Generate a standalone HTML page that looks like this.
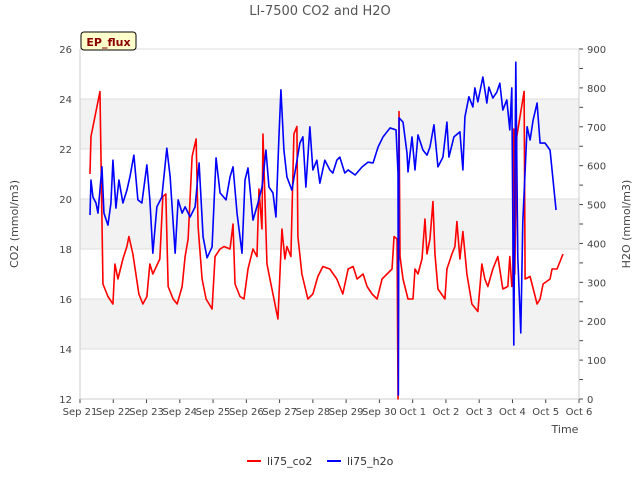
<!DOCTYPE html>
<html><head><meta charset="utf-8"><style>
body{margin:0;background:#fff;font-family:"Liberation Sans","DejaVu Sans",sans-serif}
svg text{font-family:"DejaVu Sans","Liberation Sans",sans-serif}
</style></head><body>
<svg id="c" width="640" height="480" viewBox="0 0 640 480">
<text x="320" y="15" text-anchor="middle" font-size="13" fill="#555">LI-7500 CO2 and H2O</text>
<g id="bands"></g><g id="grid"></g><g id="axes"></g><g id="series"></g>
<g>
<rect x="81" y="32" width="55" height="18" rx="3" fill="#ffffcc" stroke="#000" stroke-width="1"/>
<text x="108.5" y="46" text-anchor="middle" font-size="11" font-weight="bold" fill="#8b0000">EP_flux</text></g>
<text x="565" y="433" text-anchor="middle" font-size="11" fill="#444">Time</text>
<text transform="translate(18,224) rotate(-90)" text-anchor="middle" font-size="11" fill="#444">CO2 (mmol/m3)</text>
<text transform="translate(630,224) rotate(-90)" text-anchor="middle" font-size="11" fill="#444">H2O (mmol/m3)</text>
<g><line x1="247" y1="461" x2="261" y2="461" stroke="#f00" stroke-width="2"/><text x="267" y="465" font-size="11" fill="#333">li75_co2</text></g>
<g><line x1="327" y1="461" x2="341" y2="461" stroke="#00f" stroke-width="2"/><text x="347" y="465" font-size="11" fill="#333">li75_h2o</text></g>
</svg>
<script>
const xLabels=["Sep 21","Sep 22","Sep 23","Sep 24","Sep 25","Sep 26","Sep 27","Sep 28","Sep 29","Sep 30","Oct 1","Oct 2","Oct 3","Oct 4","Oct 5","Oct 6"];
const leftTicks=[12,14,16,18,20,22,24,26];
const rightTicks=[0,100,200,300,400,500,600,700,800,900];
const co2Days=[0.30,0.33,0.60,0.69,0.84,0.99,1.05,1.14,1.29,1.41,1.47,1.59,1.68,1.77,1.89,2.01,2.10,2.19,2.40,2.49,2.58,2.65,2.80,2.92,3.07,3.16,3.25,3.37,3.49,3.55,3.67,3.79,3.97,4.06,4.21,4.33,4.51,4.60,4.66,4.81,4.93,5.05,5.20,5.32,5.38,5.47,5.50,5.62,5.80,5.95,6.07,6.16,6.22,6.34,6.43,6.52,6.55,6.67,6.85,7.00,7.15,7.30,7.51,7.72,7.90,8.06,8.21,8.33,8.51,8.63,8.78,8.93,9.08,9.23,9.38,9.44,9.53,9.56,9.59,9.62,9.71,9.86,10.01,10.07,10.16,10.28,10.37,10.43,10.52,10.61,10.67,10.76,10.97,11.03,11.18,11.27,11.33,11.42,11.51,11.63,11.78,11.96,12.08,12.17,12.26,12.41,12.56,12.71,12.86,12.92,12.98,13.01,13.04,13.07,13.13,13.35,13.38,13.53,13.74,13.83,13.92,14.13,14.19,14.34,14.52];
const co2Vals=[21.0,22.5,24.3,16.6,16.1,15.8,17.4,16.8,17.6,18.1,18.5,17.8,17.0,16.2,15.8,16.1,17.4,17.0,17.6,20.1,20.2,16.5,16.0,15.8,16.5,17.7,18.4,21.7,22.4,18.9,16.8,16.0,15.6,17.7,18.0,18.1,18.0,19.0,16.6,16.1,16.0,17.2,18.0,17.7,20.4,18.8,22.6,17.4,16.2,15.2,18.8,17.6,18.1,17.7,22.6,22.9,18.5,17.0,16.0,16.2,16.9,17.3,17.2,16.8,16.2,17.2,17.3,16.8,17.0,16.5,16.2,16.0,16.8,17.0,17.2,18.5,18.4,12.0,23.5,17.7,16.8,16.0,16.0,17.2,17.0,17.6,19.2,17.8,18.4,19.9,17.8,16.4,16.0,17.2,17.8,18.1,19.1,17.6,18.7,17.0,15.8,15.5,17.4,16.8,16.5,17.2,17.7,16.4,16.5,17.7,16.5,16.6,22.8,17.0,22.5,24.3,16.8,16.9,15.8,16.0,16.6,16.8,17.2,17.2,17.8];
const h2oDays=[0.30,0.33,0.39,0.48,0.54,0.66,0.72,0.84,0.93,0.99,1.08,1.17,1.29,1.41,1.50,1.62,1.74,1.86,2.01,2.10,2.19,2.31,2.46,2.61,2.71,2.86,2.95,3.07,3.16,3.31,3.46,3.58,3.70,3.82,3.97,4.09,4.21,4.39,4.51,4.60,4.72,4.87,4.96,5.05,5.20,5.35,5.47,5.59,5.68,5.80,5.89,5.98,6.04,6.13,6.22,6.37,6.61,6.70,6.79,6.91,7.00,7.12,7.21,7.36,7.51,7.60,7.72,7.81,7.96,8.06,8.27,8.48,8.66,8.81,8.96,9.11,9.32,9.50,9.56,9.57,9.59,9.71,9.83,9.86,9.98,10.07,10.16,10.31,10.43,10.52,10.64,10.76,10.91,11.03,11.09,11.24,11.42,11.51,11.57,11.69,11.81,11.87,11.96,12.11,12.23,12.29,12.41,12.53,12.62,12.71,12.83,12.92,12.98,13.04,13.10,13.16,13.25,13.31,13.44,13.53,13.62,13.74,13.83,13.98,14.13,14.22,14.31];
const h2oVals=[473,563,519,504,478,597,478,447,504,614,491,563,504,537,571,627,512,504,602,512,375,494,519,645,571,375,512,478,494,468,494,607,417,363,391,620,530,512,571,597,478,375,563,594,460,504,545,640,545,530,468,674,795,640,571,537,658,674,545,700,589,614,555,614,589,581,614,622,581,589,576,597,609,607,648,674,697,692,581,10,723,712,632,584,674,589,679,640,627,648,705,597,622,712,622,674,687,589,725,777,751,800,764,828,761,802,774,789,812,743,769,692,800,139,866,365,170,453,700,666,717,761,658,658,640,563,486];
const L=80,R=579,T=49,B=399,NS="http://www.w3.org/2000/svg";
const xs=d=>L+d*(R-L)/15, yl=v=>B-(v-12)*(B-T)/14, yr=v=>B-v*(B-T)/900;
function mk(t,a,p){const e=document.createElementNS(NS,t);for(const k in a)e.setAttribute(k,a[k]);(p||document.getElementById('c')).appendChild(e);return e;}
const bands=document.getElementById('bands'),grid=document.getElementById('grid'),axes=document.getElementById('axes'),ser=document.getElementById('series');
[[14,16],[18,20],[22,24]].forEach(b=>{const r=mk('rect',{x:L,y:yl(b[1]),width:R-L,height:yl(b[0])-yl(b[1]),fill:'#f2f2f2'},bands);

});
leftTicks.forEach(v=>{const y=yl(v);mk('line',{x1:L,x2:R,y1:y,y2:y,stroke:'#ddd','stroke-width':1},grid);
const t=mk('text',{x:L-8,y:y+4,'text-anchor':'end','font-size':10,fill:'#444'},axes);t.textContent=v;

});
for(let v=0;v<=900;v+=50){const y=yr(v);mk('line',{x1:R,x2:R+4,y1:y,y2:y,stroke:'#444'},axes);}
rightTicks.forEach(v=>{const y=yr(v);const t=mk('text',{x:R+8,y:y+4,'font-size':10,fill:'#444'},axes);t.textContent=v;

});
xLabels.forEach((s,i)=>{const x=xs(i);mk('line',{x1:x,x2:x,y1:B,y2:B+4,stroke:'#444'},axes);
const t=mk('text',{x:x,y:B+16,'text-anchor':'middle','font-size':10,fill:'#444'},axes);t.textContent=s;

});
mk('line',{x1:L,x2:R,y1:B,y2:B,stroke:'#ccc'},axes);mk('line',{x1:L,x2:L,y1:T,y2:B,stroke:'#ccc'},axes);mk('line',{x1:R,x2:R,y1:T,y2:B,stroke:'#ccc'},axes);
const p1=mk('polyline',{points:co2Days.map((d,i)=>xs(d)+','+yl(co2Vals[i])).join(' '),fill:'none',stroke:'#f00','stroke-width':1.6,'stroke-linejoin':'round'},ser);


const p2=mk('polyline',{points:h2oDays.map((d,i)=>xs(d)+','+yr(h2oVals[i])).join(' '),fill:'none',stroke:'#00f','stroke-width':1.6,'stroke-linejoin':'round'},ser);


</script>
</body></html>
